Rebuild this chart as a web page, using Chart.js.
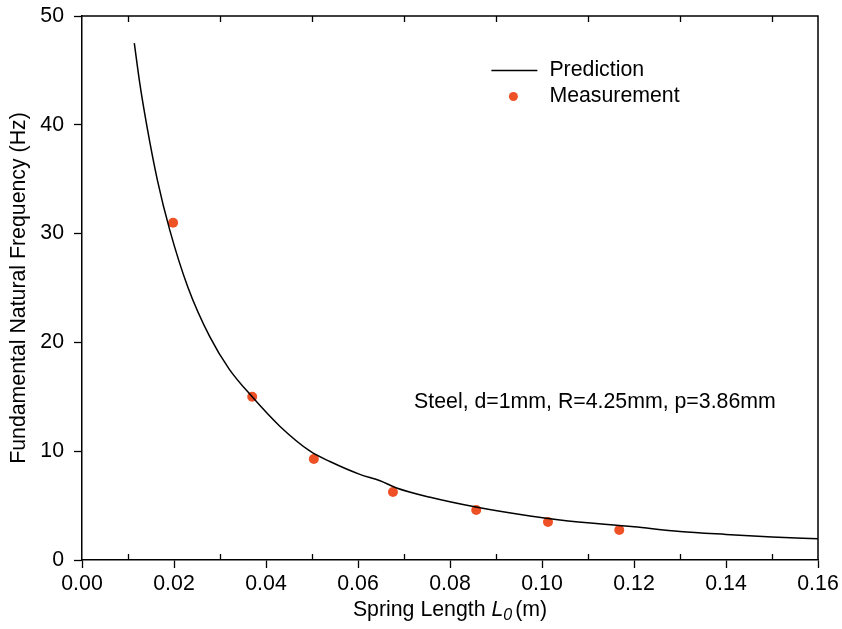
<!DOCTYPE html>
<html>
<head>
<meta charset="utf-8">
<script src="https://cdn.jsdelivr.net/npm/chart.js@4.4.1/dist/chart.umd.min.js"></script>
<style>
html,body{margin:0;padding:0;background:#fff;}
#wrap{width:842px;height:629px;position:relative;}
</style>
</head>
<body>
<div id="wrap"><canvas id="c" width="842" height="629"></canvas></div>
<script>
// Prediction curve
const predLength = [0.01137, 0.0125, 0.01406, 0.0164, 0.0191, 0.0230, 0.0278, 0.0320, 0.0370, 0.0430, 0.0496, 0.0539, 0.0604, 0.0648, 0.0684, 0.0757, 0.0859, 0.0974, 0.1039, 0.1200, 0.1300, 0.1400, 0.1500, 0.1600];
const predFreq   = [47.5, 44.0, 40.0, 34.9, 30.3, 25.1, 20.5, 17.55, 15.0, 12.3, 10.0, 9.05, 7.87, 7.29, 6.62, 5.76, 4.84, 4.04, 3.68, 3.05, 2.62, 2.35, 2.12, 1.96];
// Measurements
const measLength = [0.0198, 0.0370, 0.0504, 0.0676, 0.0857, 0.1013, 0.1168];
const measFreq   = [31.0, 15.0, 9.28, 6.25, 4.6, 3.49, 2.76];
// Texts
const seriesNames = ['Prediction', 'Measurement'];
const annotationText = 'Steel, d=1mm, R=4.25mm, p=3.86mm';
const yTitle = 'Fundamental Natural Frequency (Hz)';
const xTitleParts = ['Spring Length ', 'L', '0', '(m)'];
const minorXTicks = [0.01, 0.03, 0.05, 0.07, 0.09, 0.11, 0.13, 0.15];

const FONT = '"Liberation Sans", Arial, Helvetica, sans-serif';
const FS = 21.3;
const ORANGE = '#EF5127';

const decor = {
  id: 'decor',
  afterDraw(chart) {
    const ctx = chart.ctx;
    const a = chart.chartArea;
    const xs = chart.scales.x, ys = chart.scales.y;
    ctx.save();
    // frame top & right
    ctx.strokeStyle = '#000';
    ctx.lineWidth = 1.5;
    ctx.beginPath();
    ctx.moveTo(a.left, a.top); ctx.lineTo(a.right, a.top); ctx.lineTo(a.right, a.bottom);
    ctx.stroke();
    // minor ticks (inward) bottom and top
    ctx.lineWidth = 1.3;
    ctx.beginPath();
    minorXTicks.forEach(v => {
      const px = Math.round(xs.getPixelForValue(v)) + 0.5;
      ctx.moveTo(px, a.bottom); ctx.lineTo(px, a.bottom - 6);
      ctx.moveTo(px, a.top); ctx.lineTo(px, a.top + 6);
    });
    ctx.stroke();

    ctx.fillStyle = '#000';
    ctx.font = FS + 'px ' + FONT;
    ctx.textBaseline = 'middle';
    ctx.textAlign = 'left';
    // annotation
    ctx.fillText(annotationText, xs.getPixelForValue(0.0722), ys.getPixelForValue(14.5));

    // legend
    const lx = xs.getPixelForValue(0.0890);
    const ly1 = ys.getPixelForValue(45.0);
    const ly2 = ys.getPixelForValue(42.6);
    ctx.strokeStyle = '#000';
    ctx.lineWidth = 1.5;
    ctx.beginPath();
    ctx.moveTo(lx, ly1); ctx.lineTo(lx + 46, ly1);
    ctx.stroke();
    ctx.fillText(seriesNames[0], lx + 58, ly1);
    ctx.fillStyle = ORANGE;
    ctx.beginPath();
    ctx.arc(lx + 22, ly2, 4.5, 0, Math.PI * 2);
    ctx.fill();
    ctx.fillStyle = '#000';
    ctx.fillText(seriesNames[1], lx + 58, ly2);

    // y title
    ctx.save();
    ctx.translate(19, (a.top + a.bottom) / 2);
    ctx.rotate(-Math.PI / 2);
    ctx.textAlign = 'center';
    ctx.fillText(yTitle, 0, 0);
    ctx.restore();

    // x title with italic L and subscript 0
    const fN = FS + 'px ' + FONT, fI = 'italic ' + FS + 'px ' + FONT, fS = 'italic 16px ' + FONT;
    ctx.textBaseline = 'alphabetic';
    ctx.textAlign = 'left';
    ctx.font = fN; const w0 = ctx.measureText(xTitleParts[0]).width;
    ctx.font = fI; const w1 = ctx.measureText(xTitleParts[1]).width;
    ctx.font = fS; const w2 = ctx.measureText(xTitleParts[2]).width + 3;
    ctx.font = fN; const w3 = ctx.measureText(xTitleParts[3]).width;
    const total = w0 + w1 + w2 + w3;
    let tx = (a.left + a.right) / 2 - total / 2;
    const base = 616;
    ctx.font = fN; ctx.fillText(xTitleParts[0], tx, base); tx += w0;
    ctx.font = fI; ctx.fillText(xTitleParts[1], tx, base); tx += w1;
    ctx.font = fS; ctx.fillText(xTitleParts[2], tx, base + 4); tx += w2;
    ctx.font = fN; ctx.fillText(xTitleParts[3], tx, base);
    ctx.restore();
  }
};

new Chart(document.getElementById('c'), {
  type: 'scatter',
  data: {
    datasets: [
      {
        label: seriesNames[0],
        data: predLength.map((x, i) => ({x, y: predFreq[i]})),
        showLine: true,
        borderColor: '#000',
        borderWidth: 1.5,
        pointRadius: 0,
        cubicInterpolationMode: 'monotone',
        fill: false
      },
      {
        label: seriesNames[1],
        data: measLength.map((x, i) => ({x, y: measFreq[i]})),
        showLine: false,
        pointRadius: 5,
        pointBackgroundColor: ORANGE,
        pointBorderColor: ORANGE,
        pointBorderWidth: 0
      }
    ]
  },
  options: {
    responsive: false,
    animation: false,
    devicePixelRatio: 1,
    layout: { padding: { top: 16, right: 24, left: 0, bottom: 0 } },
    plugins: { legend: { display: false }, tooltip: { enabled: false } },
    scales: {
      x: {
        type: 'linear', min: 0, max: 0.16,
        afterFit(s) { s.height = 69; s.paddingLeft = 0; s.paddingRight = 0; },
        ticks: { stepSize: 0.02, color: '#000', padding: 3, maxRotation: 0,
          font: { family: FONT, size: FS },
          callback: v => (Math.round(v * 100) / 100).toFixed(2) },
        grid: { drawOnChartArea: false, drawTicks: true, tickLength: 8, tickColor: '#000', tickWidth: 1.3 },
        border: { display: true, color: '#000', width: 1.5 }
      },
      y: {
        type: 'linear', min: 0, max: 50,
        afterFit(s) { s.width = 82; s.paddingTop = 0; s.paddingBottom = 0; },
        ticks: { stepSize: 10, color: '#000', padding: 10,
          font: { family: FONT, size: FS } },
        grid: { drawOnChartArea: false, drawTicks: true, tickLength: 8, tickColor: '#000', tickWidth: 1.3 },
        border: { display: true, color: '#000', width: 1.5 }
      }
    }
  },
  plugins: [decor]
});
</script>
</body>
</html>
